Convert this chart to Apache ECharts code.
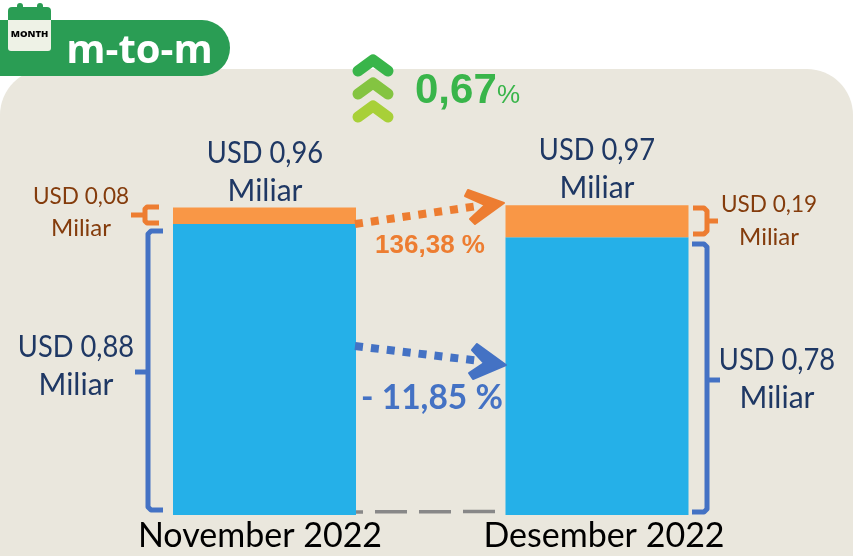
<!DOCTYPE html>
<html><head><meta charset="utf-8">
<style>html,body{margin:0;padding:0;background:#fff}#c{width:858px;height:556px}</style>
<script src="https://cdn.jsdelivr.net/npm/echarts@6/dist/echarts.min.js"></script>
</head><body><div id="c"></div>
<script>
const categories = ['November 2022', 'Desember 2022'];
// Segment heights as drawn in the picture (the reference is not to scale with its labels)
const blueDrawn = [0.88, 0.84];
const orangeDrawn = [0.05, 0.097];
// Labels as printed
const totalLabels = ['USD 0,96', 'USD 0,97'];
const orangeLabels = ['USD 0,08', 'USD 0,19'];
const blueLabels = ['USD 0,88', 'USD 0,78'];
const unitLabel = 'Miliar';
const orangeChange = '136,38 %';
const blueChange = '- 11,85 %';
const totalChange = '0,67';

const BG='#EAE7DD', BLUE='#4472C4', ORANGE='#ED7D31', NAVY='#1F3864', BROWN='#843C0C', GREEN='#2A9D54';
const LATO='Lato, "Noto Sans", sans-serif', ARIAL='"Liberation Sans", Arial, sans-serif';

function txt(x,y,t,size,color,opt){opt=opt||{};return {type:'text',z:20,x:x,y:y,scaleX:opt.sx||1,style:{text:t,font:(opt.weight||'normal')+' '+size+'px '+(opt.family||LATO),fill:color,align:opt.align||'center',verticalAlign:'middle'}};}
function line(pts,color,w,opt){opt=opt||{};return {type:'polyline',z:opt.z||15,shape:{points:pts},style:{stroke:color,lineWidth:w,fill:null,lineCap:opt.cap||'round',lineJoin:'round',lineDash:opt.dash||null}};}

const graphic=[
 {type:'rect',z:-10,shape:{x:0,y:69,width:853,height:500,r:[46,46,0,0]},style:{fill:BG}},
 // header
 {type:'rect',z:5,shape:{x:-40,y:20,width:270,height:56,r:28},style:{fill:GREEN}},
 {type:'rect',z:6,shape:{x:17,y:3,width:6,height:12,r:3},style:{fill:GREEN}},
 {type:'rect',z:6,shape:{x:37,y:3,width:6,height:12,r:3},style:{fill:GREEN}},
 {type:'rect',z:6,shape:{x:8,y:7,width:43,height:20,r:[4,4,0,0]},style:{fill:GREEN}},
 {type:'rect',z:6,shape:{x:8,y:20,width:43,height:31,r:[0,0,3,3]},style:{fill:'#EEF2E6'}},
 txt(29.5,34,'MONTH',9.5,'#000',{weight:'800',family:'"Open Sans",sans-serif'}),
 txt(139.5,52,'m-to-m',40,'#fff',{weight:'bold',family:'"Open Sans",sans-serif'}),
 // chevrons
 line([[358,71],[373,60],[388,71]],'#39B54A',11),
 line([[358,94],[373,83],[388,94]],'#84C441',11),
 line([[358,117],[373,106],[388,117]],'#A8D038',11),
 txt(415,91,totalChange,42,'#39B54A',{weight:'bold',family:ARIAL,align:'left'}),
 txt(497,96,'%',26,'#39B54A',{family:ARIAL,align:'left'}),
 // totals
 txt(265,153,totalLabels[0],30,NAVY,{sx:0.91}), txt(265,191,unitLabel,30,NAVY),
 txt(597,150,totalLabels[1],30,NAVY,{sx:0.91}), txt(597,188,unitLabel,30,NAVY),
 // orange labels
 txt(81,196,orangeLabels[0],24,BROWN,{sx:0.94}), txt(81,228,unitLabel,24,BROWN),
 txt(769,204,orangeLabels[1],24,BROWN,{sx:0.94}), txt(769,237,unitLabel,24,BROWN),
 // blue labels
 txt(76,347,blueLabels[0],30,NAVY,{sx:0.91}), txt(76,385,unitLabel,30,NAVY),
 txt(777,360,blueLabels[1],30,NAVY,{sx:0.91}), txt(777,398,unitLabel,30,NAVY),
 // brackets
 line([[159,207],[147,207],[145,209],[145,221],[147,223],[159,223]],ORANGE,5,{cap:'butt'}),
 line([[131,215],[145,215]],ORANGE,5,{cap:'butt'}),
 line([[163,231],[151,231],[148,234],[148,507],[151,510],[163,510]],BLUE,5,{cap:'butt'}),
 line([[135,372],[148,372]],BLUE,5,{cap:'butt'}),
 line([[693,208],[704,208],[707,211],[707,231],[704,234],[693,234]],ORANGE,5,{cap:'butt'}),
 line([[707,221],[718,221]],ORANGE,5,{cap:'butt'}),
 line([[692,244],[704,244],[707,247],[707,509],[704,512],[692,512]],BLUE,5,{cap:'butt'}),
 line([[707,380],[720,380]],BLUE,5,{cap:'butt'}),
 // arrows
 line([[355,224],[478,206]],ORANGE,8,{cap:'butt',dash:[8,8]}),
 {type:'polygon',z:15,shape:{points:[[468,190],[504,203],[475,224],[470,219],[485,205],[465,196]]},style:{fill:ORANGE,stroke:ORANGE,lineWidth:2,lineJoin:'round'}},
 line([[355,346],[480,361]],BLUE,8,{cap:'butt',dash:[8,8]}),
 {type:'polygon',z:15,shape:{points:[[477,344],[506,365],[473,379],[469,373],[484,363],[472,350]]},style:{fill:BLUE,stroke:BLUE,lineWidth:2,lineJoin:'round'}},
 txt(430,246,orangeChange,26,ORANGE,{weight:'bold',family:ARIAL}),
 txt(432,398,blueChange,33.5,BLUE,{weight:'bold'}),
 // dashed baseline
 line([[331,512],[497,511.5]],'#888888',3.5,{cap:'butt',dash:[32,12],z:1}),
];

const chart=echarts.init(document.getElementById('c'),null,{renderer:'canvas'});
chart.setOption({
 animation:false,
 backgroundColor:'#fff',
 grid:{left:98.25,width:665,top:118.2,bottom:41,containLabel:false},
 xAxis:{type:'category',
  data:[{value:categories[0],textStyle:{padding:[0,9,0,0]}},{value:categories[1],textStyle:{padding:[0,0,0,14]}}],
  axisLine:{show:false},axisTick:{show:false},
  axisLabel:{color:'#000',fontSize:34,fontFamily:LATO,margin:4,interval:0}},
 yAxis:{type:'value',min:0,max:1.2,show:false,splitLine:{show:false}},
 series:[
  {type:'bar',stack:'t',barWidth:183,data:blueDrawn,itemStyle:{color:'#25B0E8'},z:3},
  {type:'bar',stack:'t',barWidth:183,data:orangeDrawn,itemStyle:{color:'#F99746'},z:3}
 ],
 graphic:{elements:graphic}
});
</script></body></html>
